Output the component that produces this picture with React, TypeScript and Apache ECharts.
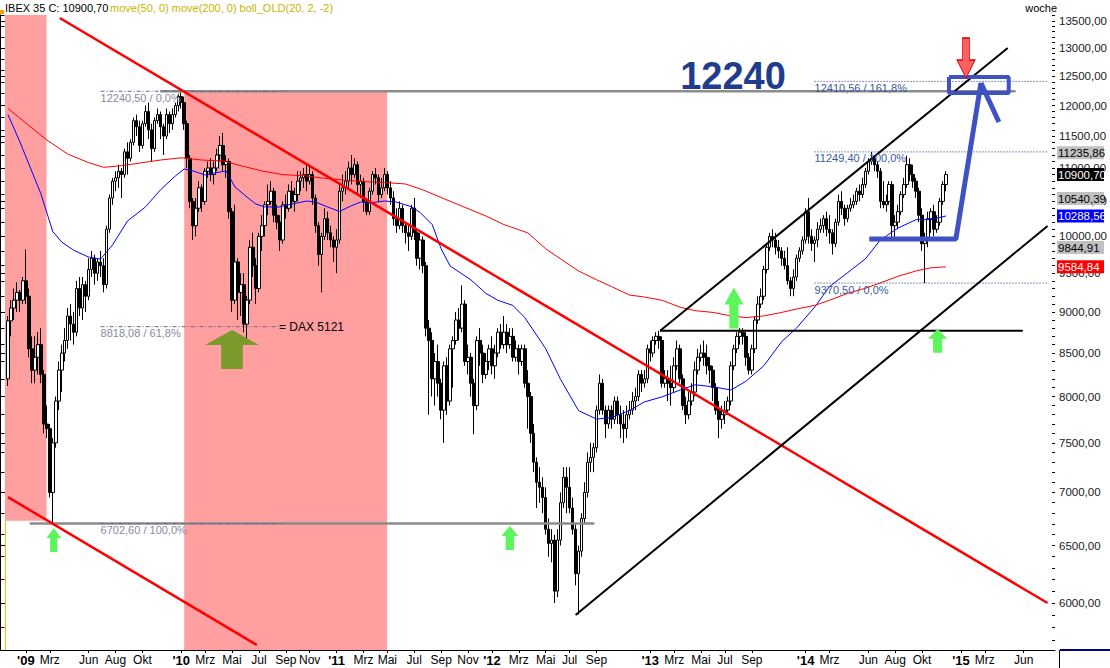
import React, { useEffect, useRef } from "react";
import * as echarts from "echarts";

const FONT = "'Liberation Sans', Arial, sans-serif";
const START_MS = Date.UTC(2008, 10, 17); // week index 0 (Monday)
const WEEK_MS = 7 * 86400000;
const WEEK_COUNT = 352;
const Y_MIN = 5620;
const Y_MAX = 13613;
const FIRST_WEEK = 1;

// weekly candles [open, close, low, high], from week index 1 (24.11.2008)
const ohlc: number[][] = [
  [8200,8890,8120,8950],[8890,9050,8700,9150],[9050,9150,8900,9300],[9150,9250,9000,9380],[9250,9150,9000,9280],
  [9150,9400,9100,9450],[9400,9200,9100,9820],[9200,8550,8450,9300],[8550,8300,8150,8700],[8300,8450,8150,8700],
  [8450,8600,8250,8750],[8600,8250,8150,8800],[8250,7700,7600,8300],[7700,7650,7550,7900],[7650,7000,6950,7700],
  [7000,7500,6702.6,7550],[7500,7950,7450,8000],[7950,8300,7850,8400],[8300,8500,8050,8600],[8500,8650,8400,8800],
  [8650,8950,8550,9050],[8950,8850,8650,9100],[8850,8750,8600,9000],[8750,9300,8700,9400],[9300,9050,8950,9450],
  [9050,9350,8900,9450],[9350,9200,9000,9400],[9200,9550,9150,9700],[9550,9700,9450,9800],[9700,9500,9350,9750],
  [9500,9650,9400,9700],[9650,9600,9450,9800],[9600,9350,9250,9700],[9350,10100,9300,10150],[10100,10550,10050,10600],
  [10550,10800,10450,10850],[10800,10850,10650,10950],[10850,10950,10700,11050],[10950,10900,10550,11000],[10900,11250,10850,11300],
  [11250,11150,10900,11400],[11150,11400,11100,11450],[11400,11750,11350,11800],[11750,11650,11500,11850],[11650,11350,11250,11750],
  [11350,11700,11300,11750],[11700,11900,11650,12000],[11900,11600,11450,12050],[11600,11300,11100,11700],[11300,11750,11250,11800],
  [11750,11850,11700,11950],[11850,11650,11450,11900],[11650,11500,11200,11700],[11500,11850,11450,11950],[11850,11700,11550,11900],
  [11700,11850,11600,11950],[11850,12000,11800,12050],[12000,12150,11900,12200],[12150,12050,11950,12240.5],[12050,11700,11600,12150],
  [11700,11150,11000,11750],[11150,10500,10400,11200],[10500,10150,9950,10550],[10150,10400,10000,10550],[10400,10700,10350,10800],
  [10700,10500,10350,10750],[10500,10950,10450,11000],[10950,11000,10850,11100],[11000,10900,10800,11150],[10900,11000,10750,11100],
  [11000,11200,10950,11300],[11200,11350,11100,11500],[11350,11050,10950,11550],[11050,11100,10850,11200],[11100,10350,10250,11150],
  [10350,9150,9000,10400],[9150,9650,9100,10450],[9650,9250,8900,9700],[9250,9350,8950,9500],[9350,8850,8750,9500],
  [8850,9150,8600,9200],[9150,9850,9100,9950],[9850,9600,9450,10050],[9600,9300,9100,9700],[9300,10000,9250,10050],
  [10000,10150,9800,10300],[10150,10450,10000,10500],[10450,10500,10300,10750],[10500,10650,10450,10800],[10650,10300,10200,10700],
  [10300,10200,10100,10450],[10200,9950,9800,10300],[9950,10450,9900,10500],[10450,10400,10250,10600],[10400,10650,10350,10750],
  [10650,10500,10400,10800],[10500,10600,10350,10700],[10600,10800,10500,10950],[10800,10850,10650,10950],[10850,10900,10700,11000],
  [10900,10800,10650,11050],[10800,10900,10750,11050],[10900,10550,10450,10950],[10550,10150,10050,10600],[10150,9750,9600,10200],
  [9750,10000,9250,10050],[10000,10250,9950,10400],[10250,10050,9950,10350],[10050,9950,9850,10150],[9950,9850,9650,10000],
  [9850,9950,9500,10100],[9950,10650,9900,10750],[10650,10700,10500,10900],[10700,10800,10600,10950],[10800,11000,10700,11100],
  [11000,10900,10750,11200],[10900,11050,10850,11150],[11050,10750,10600,11100],[10750,10800,10550,10900],[10800,10500,10350,10850],
  [10500,10350,10300,10550],[10350,10650,10300,10700],[10650,10900,10600,10950],[10900,10850,10750,11000],[10850,10600,10500,10900],
  [10600,10700,10550,10850],[10700,10900,10650,11000],[10900,10700,10600,10950],[10700,10550,10450,10800],[10550,10250,10150,10650],
  [10250,10150,10050,10400],[10150,10400,10100,10500],[10400,10150,10050,10450],[10150,10050,9900,10200],[10050,10000,9800,10150],
  [10000,10400,9950,10450],[10400,10050,9950,10550],[10050,9700,9600,10100],[9700,9950,9550,10050],[9950,9600,9500,10000],
  [9600,8800,8700,9650],[8800,8650,7800,8900],[8650,8200,8000,8750],[8200,8400,7900,8500],[8400,8150,8000,8600],
  [8150,7850,7750,8200],[7850,8350,7500,8400],[8350,7950,7800,8450],[7950,8550,7900,8600],[8550,8650,8100,8700],
  [8650,8900,8600,9000],[8900,8800,8650,9050],[8800,9100,8750,9340],[9100,8400,8350,9150],[8400,8450,8250,8600],
  [8450,8150,8000,8500],[8150,7900,7590,8200],[7900,8650,7850,8700],[8650,8500,8350,8800],[8500,8250,8150,8600],
  [8250,8400,8200,8500],[8400,8550,8300,8600],[8550,8350,8250,8700],[8350,8500,8200,8600],[8500,8750,8450,8800],
  [8750,8600,8550,8850],[8600,8750,8550,8950],[8750,8600,8500,8850],[8600,8700,8550,8800],[8700,8450,8400,8800],
  [8450,8550,8400,8650],[8550,8400,8250,8600],[8400,8550,8350,8600],[8550,8150,8100,8600],[8150,8000,7650,8300],
  [8000,7600,7500,8050],[7600,7300,7200,7700],[7300,7100,6850,7350],[7100,7050,6900,7250],[7050,6950,6800,7150],
  [6950,6650,6600,7050],[6650,6520,6400,6750],[6520,6550,6350,6650],[6550,6100,6000,6600],[6100,6550,6050,6650],
  [6550,6900,6500,7000],[6900,7150,6850,7250],[7150,7050,6800,7250],[7050,6850,6800,7250],[6850,6650,6600,6950],
  [6650,6250,6150,6700],[6250,6450,5905,6500],[6450,6750,6400,6800],[6750,7000,6700,7100],[7000,7300,6950,7400],
  [7300,7350,7200,7500],[7350,7450,7200,7500],[7450,7850,7400,7900],[7850,8150,7800,8250],[8150,7850,7800,8200],
  [7850,7700,7550,7900],[7700,7850,7650,7900],[7850,7750,7650,7900],[7750,7950,7700,8000],[7950,7800,7700,8000],
  [7800,7700,7550,7900],[7700,7650,7500,7850],[7650,7800,7550,7900],[7800,7850,7750,7950],[7850,7950,7800,8050],
  [7950,8000,7850,8100],[8000,8250,7950,8300],[8250,8150,8050,8300],[8150,8200,8100,8300],[8200,8550,8150,8600],
  [8550,8500,8400,8650],[8500,8650,8450,8700],[8650,8700,8600,8750],[8700,8650,8550,8768],[8650,8150,8100,8700],
  [8150,8200,8100,8300],[8200,8150,7950,8300],[8150,8100,7900,8350],[8100,8350,8050,8450],[8350,8550,8300,8650],
  [8550,8200,8150,8600],[8200,7900,7850,8250],[7900,7800,7700,8000],[7800,7950,7750,8050],[7950,8050,7900,8150],
  [8050,8300,8000,8400],[8300,8450,8250,8550],[8450,8500,8400,8600],[8500,8450,8350,8650],[8450,8350,8250,8600],
  [8350,8300,8150,8450],[8300,8100,7950,8350],[8100,7850,7800,8150],[7850,7750,7550,7950],[7750,7800,7650,7900],
  [7800,7850,7700,7950],[7850,7950,7800,8000],[7950,8350,7900,8400],[8350,8550,8300,8600],[8550,8700,8500,8750],
  [8700,8750,8600,8800],[8750,8700,8600,8800],[8700,8450,8350,8750],[8450,8300,8250,8500],[8300,8550,8250,8600],
  [8550,8900,8500,8950],[8900,9100,8850,9200],[9100,9200,9050,9300],[9200,9550,9150,9600],[9550,9850,9500,9900],
  [9850,10000,9800,10050],[10000,9950,9850,10100],[9950,9850,9750,10050],[9850,9800,9700,9950],[9800,9700,9600,9850],
  [9700,9600,9550,9800],[9600,9400,9350,9850],[9400,9300,9200,9450],[9300,9450,9200,9550],[9450,9700,9400,9750],
  [9700,9800,9650,9850],[9800,9950,9750,10000],[9950,10350,9900,10400],[10350,10000,9900,10550],[10000,9900,9800,10100],
  [9900,9950,9650,10000],[9950,10100,9850,10200],[10100,10150,10050,10250],[10150,10250,10050,10300],[10250,10100,10000,10350],
  [10100,10050,9900,10300],[10050,9900,9750,10100],[9900,10200,9850,10250],[10200,10500,10150,10600],[10500,10400,10300,10650],
  [10400,10250,10150,10450],[10250,10400,10200,10450],[10400,10450,10350,10550],[10450,10500,10400,10600],[10500,10650,10450,10700],
  [10650,10600,10500,10750],[10600,10750,10550,10850],[10750,10950,10700,11000],[10950,11100,10900,11150],[11100,11150,11050,11249.4],
  [11150,11050,10950,11200],[11050,10950,10850,11100],[10950,10500,10400,11000],[10500,10450,10400,10800],[10450,10500,10350,10600],
  [10500,10750,10450,10800],[10750,10150,9950,10800],[10150,10200,9950,10300],[10200,10350,10100,10450],[10350,10600,10300,10650],
  [10600,10750,10550,10850],[10750,11050,10700,11190],[11050,10900,10800,11150],[10900,10800,10700,11050],[10800,10650,10550,10850],
  [10650,10300,10200,10700],[10300,9900,9800,10400],[9900,9950,9370.5,10050],[9950,10250,9850,10350],[10250,10350,10050,10400],
  [10350,10100,10000,10450],[10100,10200,10050,10300],[10200,10500,10150,10550],[10500,10750,10450,10800],[10750,10900.7,10650,10950],
];

// moving averages: [week index, value]
const ma50: number[][] = [
  [1,11850],[5,11406],[12,10614],[16,10068],[19,9921],[23,9809],[28,9716],[32,9689],[36,9881],[41,10217],
  [47,10418],[52,10668],[57,10877],[60,10985],[63,10954],[67,10893],[70,10923],[74,10954],[77,10712],[81,10564],
  [84,10461],[87,10418],[92,10418],[96,10461],[101,10505],[104,10490],[108,10418],[112,10353],[116,10437],[119,10490],
  [122,10476],[127,10505],[131,10490],[136,10423],[139,10337],[143,10166],[146,9829],[149,9596],[156,9411],[161,9236],
  [165,9148],[170,9083],[174,8931],[181,8552],[186,8192],[192,7845],[198,7753],[203,7769],[209,7845],[214,7940],
  [220,7997],[226,8073],[231,8132],[237,8110],[243,8073],[248,8172],[254,8350],[260,8636],[265,8802],[271,9060],
  [276,9325],[282,9505],[288,9690],[293,9950],[299,10118],[305,10236],[310,10236],[315,10288.56],
];
const ma200: number[][] = [
  [1,11950],[14,11437],[21,11216],[28,11082],[33,11010],[39,11035],[46,11082],[52,11122],[59,11157],[66,11122],
  [73,11107],[79,11035],[86,10954],[93,10898],[100,10883],[106,10848],[113,10818],[120,10794],[127,10779],[134,10758],
  [140,10668],[147,10538],[154,10412],[161,10288],[167,10166],[172,10093],[175,10049],[181,9829],[186,9690],[192,9530],
  [198,9414],[203,9325],[209,9216],[214,9190],[220,9148],[226,9060],[231,9017],[237,8995],[243,8951],[248,8931],
  [254,8951],[260,8995],[265,9038],[271,9083],[276,9148],[282,9236],[288,9303],[293,9372],[299,9460],[305,9530],
  [310,9572],[315,9584.84],
];

// drawn trend lines [week index, value]
const redUpper = [[18.33, 13556], [349, 6000]];
const redLower = [[1, 6954], [84.33, 5659]];
const blackUpper = [[219.3, 8768], [335.67, 13002]];
const blackLower = [[191, 5900], [349, 10147]];
const blackFlat = [[219.3, 8768], [340.7, 8768]];
const grayTop = [[52, 12240.5], [338.3, 12240.5]];
const grayBottom = [[8.3, 6702.6], [197.3, 6702.6]];
const fibLeftLevels = [12240.5, 8818.08, 6702.6];
const fibLeftSpan = [32, 92.7];
const fibRightLevels = [12410.56, 11249.4, 9370.5];
const fibRightSpan = [271, 349];
const bluePath = [[289.3, 9963], [318.3, 9963], [326.7, 12383]];
const blueBranch = [[326.7, 12383], [332.7, 11728]];
const blueBox = [[316, 12488], [336, 12488], [336, 12213], [316, 12213], [316, 12488]];
const bandA = [[0, Y_MAX], [13.9, 6728]];
const bandB = [[60, 12240.5], [127.9, Y_MIN]];

const greenArrows = [[16.33, 6550], [169, 6569], [244, 9052], [312.2, 8648]];
const greenArrowSizes = [[15, 24], [17, 24], [19, 41], [19, 24]];
const oliveArrow = [[76, 8541]];
const redArrow = [[321.7, 12821]];

const fibLeftLabels = ["12240,50 / 0,0%", "8818,08 / 61,8%", "6702,60 / 100,0%"];
const fibRightLabels = ["12410,56 / 161,8%", "11249,40 / 100,0%", "9370,50 / 0,0%"];
const daxNote = { at: [91.7, 8818.08], text: "= DAX 5121" };
const bigTarget = { at: [226, 12504], text: "12240" };

const yTickValues = [6000,6500,7000,7500,8000,8500,9000,9500,10000,10500,11000,11500,12000,12500,13000,13500];
const yMinorTicks: number[] = [];
for (let v = 5700; v <= 13600; v += 100) yMinorTicks.push(v);
const yLeftTicks: number[] = [];
for (let v = 5800; v <= 13600; v += 200) yLeftTicks.push(v);

const tagValues = [11235.86, 10900.7, 10540.39, 10288.56, 9844.91, 9584.84];
const tagBg = ["#c0c0c0", "#000000", "#c0c0c0", "#0000ff", "#c0c0c0", "#ff0000"];
const tagFg = ["#000000", "#ffffff", "#000000", "#ffffff", "#000000", "#ffffff"];

const xLabelMonths: [number, number, string][] = [
  [2009,1,"'09"],[2009,3,"Mrz"],[2009,6,"Jun"],[2009,8,"Aug"],[2009,10,"Okt"],
  [2010,1,"'10"],[2010,3,"Mrz"],[2010,5,"Mai"],[2010,7,"Jul"],[2010,9,"Sep"],[2010,11,"Nov"],
  [2011,1,"'11"],[2011,3,"Mrz"],[2011,5,"Mai"],[2011,7,"Jul"],[2011,9,"Sep"],[2011,11,"Nov"],
  [2012,1,"'12"],[2012,3,"Mrz"],[2012,5,"Mai"],[2012,7,"Jul"],[2012,9,"Sep"],
  [2013,1,"'13"],[2013,3,"Mrz"],[2013,5,"Mai"],[2013,7,"Jul"],[2013,9,"Sep"],
  [2014,1,"'14"],[2014,3,"Mrz"],[2014,6,"Jun"],[2014,8,"Aug"],[2014,10,"Okt"],
  [2015,1,"'15"],[2015,3,"Mrz"],[2015,6,"Jun"],
];

function weekOfMonthStart(y: number, m: number) {
  return Math.ceil((Date.UTC(y, m - 1, 1) - START_MS) / WEEK_MS);
}

function buildOption() {
  const labelMap = new Map<number, string>();
  const labelIdx: number[] = [];
  xLabelMonths.forEach(([y, m, t]) => {
    const w = weekOfMonthStart(y, m);
    labelMap.set(w, t);
    labelIdx.push(w);
  });

  const candleData = ohlc.map((r, k) => [k + FIRST_WEEK, r[0], r[1], r[2], r[3]]);

  const line = (data: number[][], color: string, width: number, type: any = "solid", z = 6) => ({
    type: "line",
    data,
    symbol: "none",
    showSymbol: false,
    silent: true,
    clip: false,
    z,
    lineStyle: { color, width, type, cap: "butt" },
  });

  const textSeries = (items: { at: number[]; text: string }[], style: any, dy: number, vAlign: string) => ({
    type: "custom",
    clip: false,
    silent: true,
    z: 20,
    data: items.map((it) => [it.at[0], it.at[1]]),
    renderItem: (params: any, api: any) => {
      const p = api.coord([api.value(0), api.value(1)]);
      return {
        type: "text",
        x: p[0],
        y: p[1] + dy,
        style: { text: items[params.dataIndex].text, align: "left", verticalAlign: vAlign, ...style },
      };
    },
  });

  const upArrow = "path://M50,0 L100,42 L74,42 L74,100 L26,100 L26,42 L0,42 Z";
  const oliveShape = "path://M50,0 L100,38 L70,38 L70,100 L30,100 L30,38 L0,38 Z";
  const downArrow = "path://M30,0 L70,0 L70,55 L100,55 L50,100 L0,55 L30,55 Z";

  const series: any[] = [
    {
      type: "candlestick",
      data: candleData,
      encode: { x: 0, y: [1, 2, 3, 4] },
      barWidth: 3,
      z: 5,
      silent: true,
      itemStyle: { color: "#ffffff", color0: "#000000", borderColor: "#000000", borderColor0: "#000000", borderWidth: 1 },
      markArea: {
        silent: true,
        itemStyle: { color: "#ff9f9f" },
        data: [
          [{ coord: bandA[0] }, { coord: bandA[1] }],
          [{ coord: bandB[0] }, { coord: bandB[1] }],
        ],
      },
    },
    line(ma50, "#0000ff", 1, "solid", 7),
    line(ma200, "#ff0000", 1, "solid", 7),
    line(grayTop, "#8c8c8c", 2.5, "solid", 8),
    line(grayBottom, "#8c8c8c", 2.5, "solid", 8),
    ...fibLeftLevels.map((v) => line([[fibLeftSpan[0], v], [fibLeftSpan[1], v]], "#6a6a80", 1, [4, 2, 1, 2], 9)),
    ...fibRightLevels.map((v) => line([[fibRightSpan[0], v], [fibRightSpan[1], v]], "#1a2a80", 1, [1, 2], 9)),
    line(redUpper, "#ff0000", 2.5, "solid", 10),
    line(redLower, "#ff0000", 2.5, "solid", 10),
    line(blackUpper, "#000000", 2, "solid", 10),
    line(blackLower, "#000000", 2, "solid", 10),
    line(blackFlat, "#000000", 2, "solid", 10),
    line(bluePath, "#3f51c3", 5, "solid", 11),
    line(blueBranch, "#3f51c3", 5, "solid", 11),
    line(blueBox, "#3f51c3", 4, "solid", 11),
    {
      type: "scatter",
      silent: true,
      z: 12,
      data: greenArrows,
      symbol: upArrow,
      symbolSize: (_v: any, p: any) => greenArrowSizes[p.dataIndex],
      itemStyle: { color: "#5cf55c", opacity: 1 },
    },
    {
      type: "scatter",
      silent: true,
      z: 12,
      data: oliveArrow,
      symbol: oliveShape,
      symbolSize: [54, 39],
      itemStyle: { color: "#7a9a2c", opacity: 1 },
    },
    {
      type: "scatter",
      silent: true,
      z: 12,
      data: redArrow,
      symbol: downArrow,
      symbolSize: [18, 40],
      itemStyle: { color: "#ff6060", borderColor: "#d00000", borderWidth: 1, opacity: 1 },
    },
    textSeries(
      fibLeftLevels.map((v, k) => ({ at: [fibLeftSpan[0], v], text: fibLeftLabels[k] })),
      { fill: "#8a8aa0", font: `11px ${FONT}` }, 1, "top"
    ),
    textSeries(
      fibRightLevels.map((v, k) => ({ at: [fibRightSpan[0], v], text: fibRightLabels[k] })),
      { fill: "#3a5a9a", font: `11px ${FONT}` }, 1, "top"
    ),
    textSeries([daxNote], { fill: "#000000", font: `12px ${FONT}` }, 0, "middle"),
    textSeries([bigTarget], { fill: "#1f3d8c", font: `bold 38px ${FONT}` }, 0, "middle"),
    {
      type: "custom",
      clip: false,
      silent: true,
      z: 30,
      data: tagValues.map((v) => [0, v]),
      renderItem: (params: any, api: any) => {
        const cs = params.coordSys;
        const y = api.coord([0, api.value(1)])[1];
        const x = cs.x + cs.width + 2;
        const k = params.dataIndex;
        return {
          type: "group",
          children: [
            { type: "rect", shape: { x, y: y - 6.5, width: 47, height: 13 }, style: { fill: tagBg[k] } },
            {
              type: "text",
              x: x + 1,
              y: y + 0.5,
              style: { text: tagValues[k].toFixed(2).replace(".", ","), fill: tagFg[k], font: `11.5px ${FONT}`, align: "left", verticalAlign: "middle" },
            },
          ],
        };
      },
    },
  ];

  return {
    animation: false,
    backgroundColor: "#ffffff",
    grid: { left: 3.5, right: 50.5, top: 15, bottom: 18 },
    xAxis: {
      type: "value",
      min: -0.5,
      max: WEEK_COUNT - 0.5,
      splitLine: { show: false },
      axisLine: { show: true, lineStyle: { color: "#000000", width: 1 } },
      axisTick: { show: true, length: 3, customValues: labelIdx, lineStyle: { color: "#000" } },
      axisLabel: {
        customValues: labelIdx,
        margin: 4,
        color: "#000",
        fontFamily: FONT,
        fontSize: 12,
        formatter: (v: number) => {
          const t = labelMap.get(Math.round(v)) || "";
          return t.startsWith("'") ? `{y|${t}}` : t;
        },
        rich: { y: { fontWeight: "bold", fontSize: 13, fontFamily: FONT, color: "#000" } },
      },
    },
    yAxis: [
      {
        type: "log",
        position: "right",
        min: Y_MIN,
        max: Y_MAX,
        splitLine: { show: false },
        axisLine: { show: true, lineStyle: { color: "#f2c200", width: 1 } },
        axisTick: { show: true, inside: true, length: 6, customValues: yTickValues, lineStyle: { color: "#000" } },
        axisLabel: {
          customValues: yTickValues,
          margin: 4,
          color: "#1a1a1a",
          fontFamily: FONT,
          fontSize: 11.5,
          formatter: (v: number) => v.toFixed(2).replace(".", ","),
        },
      },
      {
        type: "log",
        position: "right",
        min: Y_MIN,
        max: Y_MAX,
        splitLine: { show: false },
        axisLine: { show: false },
        axisTick: { show: true, inside: true, length: 3, customValues: yMinorTicks, lineStyle: { color: "#000" } },
        axisLabel: { show: false },
      },
      {
        type: "log",
        position: "left",
        offset: 3,
        min: Y_MIN,
        max: Y_MAX,
        splitLine: { show: false },
        axisLine: { show: true, lineStyle: { color: "#000" } },
        axisTick: { show: true, inside: true, length: 4, customValues: yLeftTicks, lineStyle: { color: "#000" } },
        axisLabel: { show: false },
      },
    ],
    graphic: [
      { type: "text", left: 5, top: 2, style: { text: "IBEX 35 C: 10900,70", fill: "#000", font: `11px ${FONT}` } },
      { type: "text", left: 110, top: 2, style: { text: "move(50, 0) move(200, 0) boll_OLD(20, 2, -2)", fill: "#c8b400", font: `11px ${FONT}` } },
      { type: "text", right: 53, top: 2, style: { text: "woche", fill: "#000", font: `11px ${FONT}` } },
      { type: "rect", left: 0, top: 10, shape: { width: 4, height: 4 }, style: { fill: "#ff9900" } },
      { type: "line", shape: { x1: 1059.5, y1: 650, x2: 1059.5, y2: 668 }, style: { stroke: "#000", lineWidth: 1 } },
      { type: "line", shape: { x1: 1060, y1: 650, x2: 1110, y2: 650 }, style: { stroke: "#000080", lineWidth: 2 } },
      { type: "line", shape: { x1: 0, y1: 650.5, x2: 4, y2: 650.5 }, style: { stroke: "#000", lineWidth: 1 } },
    ],
    series,
  };
}

export default function App() {
  const ref = useRef<HTMLDivElement>(null);
  useEffect(() => {
    if (!ref.current) return;
    const chart = echarts.init(ref.current, null, { renderer: "svg" });
    chart.setOption(buildOption() as any);
    return () => chart.dispose();
  }, []);
  return (
    <div
      ref={ref}
      style={{ position: "fixed", left: 0, top: 0, width: 1110, height: 668, background: "#ffffff" }}
    />
  );
}
